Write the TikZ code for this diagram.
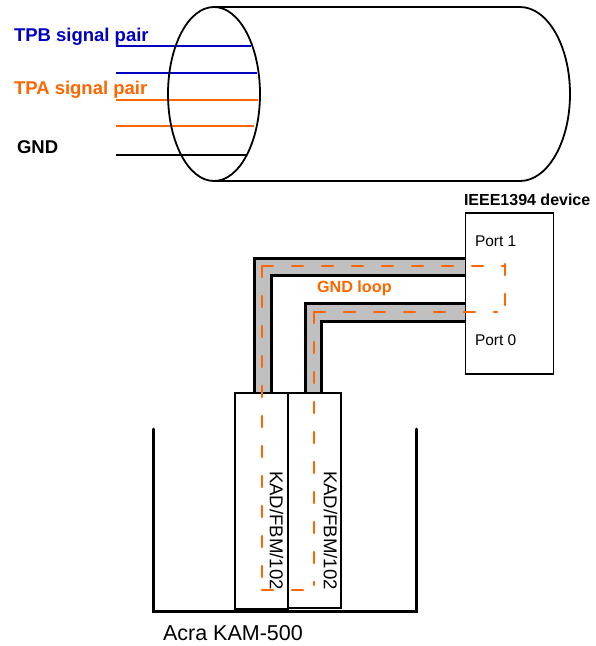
\documentclass[tikz,border=0pt]{standalone}
\usepackage{fontspec}
\setmainfont{Liberation Sans}
\usetikzlibrary{arrows.meta,positioning,calc}
\definecolor{fwBlue}  {HTML}{0000C0}
\definecolor{fwOrange}{HTML}{FF6600}
\definecolor{fwGrey}  {HTML}{C0C0C0}

\begin{document}
\begin{tikzpicture}[x=1pt,y=-1pt,
      lbl/.style={anchor=base west,inner sep=0pt,outer sep=0pt},
      wire/.style={line width=2.2pt},
      cable/.style={line width=3pt,line join=miter},
      loopdash/.style={fwOrange,line width=2.6pt,line cap=round,
                       dash pattern=on 11pt off 19pt},
      modbox/.style={draw,fill=white,line width=1.8pt,minimum width=53pt,
                     minimum height=215.5pt,inner sep=0pt,outer sep=0pt},
      modtext/.style={font=\fontsize{18.6}{20}\selectfont,rotate=-90,inner sep=0pt}]
    \useasboundingbox (0,0) rectangle (596,646);

    % The shielded cable, cut open at its left end.
    \draw[line width=1.8pt] (214,7) -- (520,7) arc (-90:90:50 and 87) -- (214,181);
    \foreach \yy/\xx/\cc in {46/251/fwBlue,73/257/fwBlue,100/258/fwOrange,126/254/fwOrange}
      \draw[wire,\cc] (116,\yy) -- (\xx,\yy);
    \draw[wire,line width=2.8pt] (116,155) -- (246,155);
    \draw[line width=1.8pt] (214,94) ellipse [x radius=46,y radius=87];

    \node[lbl,text=fwBlue,font=\fontsize{18.5}{20}\selectfont\bfseries] (tpb) at (14,41) {TPB signal pair};
    \node[lbl,text=fwOrange,font=\fontsize{18.5}{20}\selectfont\bfseries] (tpa) at (14,94) {TPA signal pair};
    \node[lbl,font=\fontsize{18.5}{20}\selectfont\bfseries] (gnd) at (17,153) {GND};

    % Grey shields of the two links, with their black edges.
    \fill[fwGrey] (254,393) |- (465,258.5) |- (271,275.5) -- (271,393) -- cycle;
    \fill[fwGrey] (305,393) |- (465,303.5) |- (321.5,321) -- (321.5,393) -- cycle;
    \foreach \ax/\ay/\bx/\by in {254/258.5/271/275.5,305/303.5/321.5/321}{
      \draw[cable] (\ax,393) |- (465,\ay);
      \draw[cable] (\bx,393) |- (465,\by);
    }

    \node[draw,fill=white,line width=1.8pt,minimum width=88pt,minimum height=161pt,
          inner sep=0pt] (dev) at (509.5,293.5) {};
    \node[lbl,font=\fontsize{16}{18}\selectfont\bfseries] (devname) at (464,205) {IEEE1394 device};
    \node[lbl,font=\fontsize{15.5}{18}\selectfont] (port1) at (475,246) {Port 1};
    \node[lbl,font=\fontsize{15.5}{18}\selectfont] (port0) at (475,345) {Port 0};

    % The chassis and its two modules.
    \draw[line width=3pt,line cap=round] (153.5,429) -- (153.5,611) -- (416,611) -- (416,429);
    \node[modbox] (kad1) at (261.5,501) {};
    \node[modbox] (kad2) at (314.5,500.5) {};
    \node[modtext] (kad1t) at (276.5,530.5) {KAD/FBM/102};
    \node[modtext] (kad2t) at (330.5,530.5) {KAD/FBM/102};

    % Each stretch of the loop restarts its dashes at the far corner.
    \foreach \ax/\ay/\bx/\by in {262/266/505/266,505/264/505/307,314/312/497/312,
                                 262/266/262/590,262/590/314/590,314/312/314/585}
      \draw[loopdash] (\ax,\ay) -- (\bx,\by);

    \node[lbl,text=fwOrange,font=\fontsize{16.2}{18}\selectfont\bfseries] (gndloop) at (317,292) {GND loop};
    \node[lbl,font=\fontsize{21.5}{24}\selectfont] (kam) at (163,640) {Acra KAM-500};
  \end{tikzpicture}
\end{document}
